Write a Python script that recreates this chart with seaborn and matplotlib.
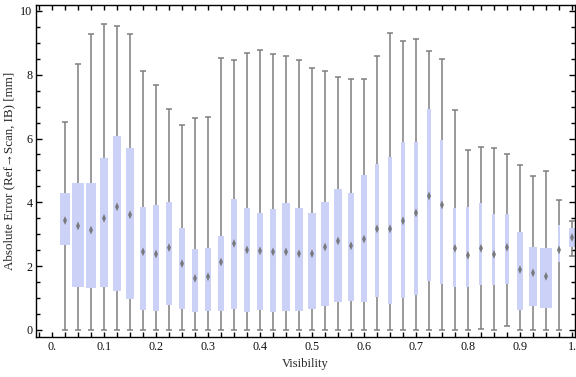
import numpy as np
import pandas as pd
import seaborn as sns
import matplotlib.pyplot as plt
from matplotlib.ticker import MultipleLocator, FixedLocator, FixedFormatter

# Box-whisker summary per visibility bin
visibility = [0.025, 0.05, 0.075, 0.1, 0.125, 0.15, 0.175, 0.2, 0.225, 0.25,
              0.275, 0.3, 0.325, 0.35, 0.375, 0.4, 0.425, 0.45, 0.475, 0.5,
              0.525, 0.55, 0.575, 0.6, 0.625, 0.65, 0.675, 0.7, 0.725, 0.75,
              0.775, 0.8, 0.825, 0.85, 0.875, 0.9, 0.925, 0.95, 0.975, 1.0]
err_min = [0, 0, 0, 0, 0, 0, 0, 0, 0, 0,
           0, 0, 0, 0, 0, 0, 0, 0, 0, 0,
           0, 0, 0, 0, 0, 0, 0, 0, 0, 0,
           0, 0, 0.03, 0, 0.12, 0, 0, 0, 0, 2.31]
err_q1 = [2.67, 1.36, 1.33, 1.36, 1.23, 0.98, 0.64, 0.61, 0.79, 0.67,
          0.57, 0.61, 0.61, 0.67, 0.57, 0.62, 0.57, 0.61, 0.61, 0.67,
          0.76, 0.89, 0.92, 0.89, 1.04, 0.82, 1.01, 1.11, 1.55, 1.43,
          1.34, 1.34, 1.42, 1.40, 1.45, 0.64, 0.76, 0.70, 2.13, 2.60]
err_med = [3.43, 3.26, 3.13, 3.50, 3.86, 3.61, 2.45, 2.38, 2.58, 2.08,
           1.62, 1.67, 2.13, 2.71, 2.51, 2.48, 2.45, 2.45, 2.39, 2.39,
           2.60, 2.79, 2.64, 2.85, 3.17, 3.17, 3.42, 3.67, 4.20, 3.92,
           2.56, 2.34, 2.56, 2.37, 2.59, 1.89, 1.79, 1.68, 2.51, 2.90]
err_q3 = [4.29, 4.61, 4.61, 5.39, 6.08, 5.71, 3.86, 3.92, 4.01, 3.20,
          2.54, 2.57, 2.95, 4.11, 3.82, 3.67, 3.79, 3.98, 3.82, 3.67,
          4.01, 4.42, 4.29, 4.86, 5.20, 5.42, 5.89, 5.89, 6.93, 5.96,
          3.81, 3.85, 3.97, 3.64, 3.64, 3.07, 2.60, 2.57, 3.29, 3.20]
err_max = [6.53, 8.34, 9.27, 9.58, 9.52, 9.27, 8.11, 7.67, 6.93, 6.42,
           6.64, 6.67, 8.52, 8.45, 8.67, 8.77, 8.64, 8.58, 8.45, 8.20,
           8.13, 7.94, 7.85, 7.85, 8.58, 9.30, 9.05, 9.11, 8.74, 8.49,
           6.89, 5.63, 5.73, 5.70, 5.51, 5.16, 4.82, 4.97, 4.07, 3.42]
# relative box widths (boxes get narrower / wider with the bin)
rel_width = [0.70, 0.85, 0.72, 0.62, 0.62, 0.62, 0.49, 0.49, 0.49, 0.46,
             0.46, 0.46, 0.46, 0.49, 0.46, 0.46, 0.52, 0.54, 0.54, 0.54,
             0.54, 0.54, 0.46, 0.46, 0.31, 0.31, 0.31, 0.31, 0.38, 0.23,
             0.23, 0.23, 0.23, 0.23, 0.31, 0.46, 0.62, 0.85, 0.18, 0.40]
xtick_vals = [0.0, 0.1, 0.2, 0.3, 0.4, 0.5, 0.6, 0.7, 0.8, 0.9, 1.0]
xtick_text = ["0.", "0.1", "0.2", "0.3", "0.4", "0.5", "0.6", "0.7", "0.8", "0.9", "1."]

# five points per bin -> quartiles come out exactly as read
rows = []
for i, v in enumerate(visibility):
    for e in (err_min[i], err_q1[i], err_med[i], err_q3[i], err_max[i]):
        rows.append({"Visibility": v, "Error": e})
df = pd.DataFrame(rows)

sns.set_style("ticks")
plt.rcParams["font.family"] = ["Liberation Serif", "DejaVu Serif"]

box_col = "#CCD2F7"
line_col = "#7f7f7f"

fig = plt.figure(figsize=(5.76, 3.77), dpi=100)
ax = fig.add_axes([36 / 576, 40 / 377, 539 / 576, 332.5 / 377])

sns.boxplot(data=df, x="Visibility", y="Error", native_scale=True,
            whis=(0, 100), width=0.6, color=box_col, saturation=1,
            linecolor=line_col, linewidth=1.1, showcaps=False,
            showfliers=False, medianprops={"visible": False}, ax=ax)

spacing = 0.025
for patch, w in zip(ax.patches, rel_width):
    patch.set_edgecolor("none")
    path = patch.get_path()
    verts = path.vertices.copy()
    c = (verts[:, 0].min() + verts[:, 0].max()) / 2
    verts[:, 0] = c + np.sign(verts[:, 0] - c) * w * spacing / 2
    path.vertices = verts
    patch.set_zorder(2)
for ln in ax.lines:
    ln.set_zorder(1)

# whisker caps and median diamonds
sns.scatterplot(x=visibility + visibility, y=err_min + err_max, marker="_",
                s=16, color=line_col, linewidth=1.1, ax=ax, zorder=3)
diamond = [(0, 1), (0.45, 0), (0, -1), (-0.45, 0), (0, 1)]
sns.scatterplot(x=visibility, y=err_med, marker=diamond, s=40,
                color="#6f6f6f", edgecolor="none", alpha=0.9, ax=ax, zorder=4)

ax.set_xlim(-0.0308, 1.0058)
ax.set_ylim(-0.22, 10.2)

ax.xaxis.set_major_locator(FixedLocator(xtick_vals))
ax.xaxis.set_major_formatter(FixedFormatter(xtick_text))
ax.xaxis.set_minor_locator(MultipleLocator(0.025))
ax.yaxis.set_major_locator(MultipleLocator(2))
ax.yaxis.set_minor_locator(MultipleLocator(0.5))
ax.tick_params(which="both", direction="in", top=True, right=True,
               width=1, color="black", labelsize=8.7, labelcolor="#111111")
ax.tick_params(axis="y", which="major", length=4.5, pad=2.5)
ax.tick_params(axis="y", which="minor", length=2.7)
ax.tick_params(axis="x", which="both", length=3.5, pad=3)
for s in ax.spines.values():
    s.set_visible(True)
    s.set_color("black")
    s.set_linewidth(1)

ax.set_xlabel("Visibility", fontsize=9, labelpad=3.5)
ax.set_ylabel("Absolute Error (Ref\u2192Scan, IB) [mm]", fontsize=9.4)
ax.yaxis.set_label_coords(-0.038, 0.5)

fig.savefig("out.png", dpi=100)
